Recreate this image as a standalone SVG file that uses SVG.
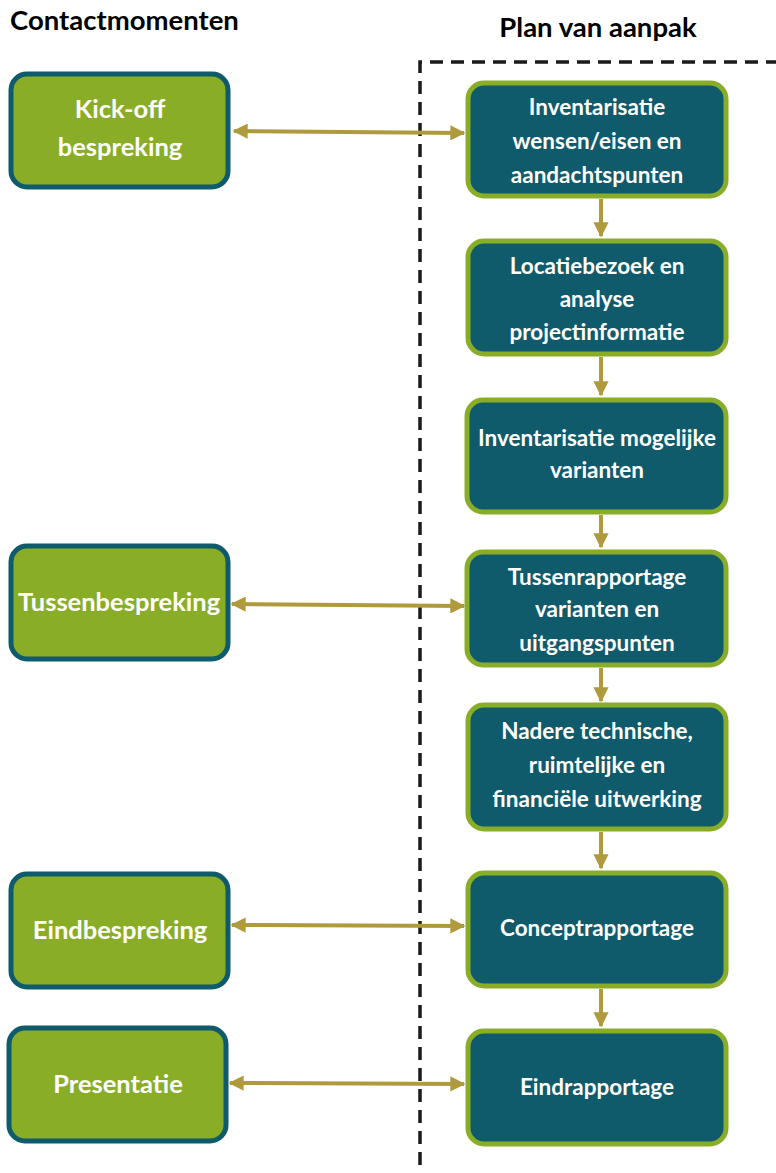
<svg xmlns="http://www.w3.org/2000/svg" width="776" height="1173" viewBox="0 0 776 1173">
<defs>
<style>
.l{fill:#8aad27;stroke:#0f5a6b;stroke-width:5}
.r{fill:#0f5a6b;stroke:#8aad27;stroke-width:5}
.t{font-family:Lato,"Open Sans",sans-serif;font-weight:bold;font-size:22.5px;fill:#ffffff;text-anchor:middle}
.tl{font-size:25.5px}
.h{font-family:Lato,"Open Sans",sans-serif;font-weight:bold;font-size:27.5px;fill:#000000}
.c{stroke:#b09a3e;stroke-width:4;fill:none}
</style>
<marker id="ah" viewBox="0 0 10 10" refX="9" refY="5" markerWidth="3.8" markerHeight="3.8" orient="auto-start-reverse" markerUnits="strokeWidth">
<path d="M0,0 L10,5 L0,10 Z" fill="#b09a3e"/>
</marker>
</defs>
<rect width="776" height="1173" fill="#ffffff"/>
<text class="h" x="10" y="30">Contactmomenten</text>
<text class="h" x="598" y="37" text-anchor="middle">Plan van aanpak</text>
<path d="M420,1165 L420,62 L776,62" fill="none" stroke="#1a1a1a" stroke-width="3.5" stroke-dasharray="13,8"/>
<g id="connectors">
<line class="c" x1="234" y1="131" x2="464" y2="133" marker-start="url(#ah)" marker-end="url(#ah)"/>
<line class="c" x1="232" y1="604" x2="464" y2="606" marker-start="url(#ah)" marker-end="url(#ah)"/>
<line class="c" x1="232" y1="925" x2="464" y2="926" marker-start="url(#ah)" marker-end="url(#ah)"/>
<line class="c" x1="230" y1="1083" x2="464" y2="1084" marker-start="url(#ah)" marker-end="url(#ah)"/>
<line class="c" x1="601" y1="199" x2="601" y2="236" marker-end="url(#ah)"/>
<line class="c" x1="601" y1="357" x2="601" y2="395" marker-end="url(#ah)"/>
<line class="c" x1="601" y1="515" x2="601" y2="547" marker-end="url(#ah)"/>
<line class="c" x1="601" y1="668" x2="601" y2="701" marker-end="url(#ah)"/>
<line class="c" x1="601" y1="832" x2="601" y2="868" marker-end="url(#ah)"/>
<line class="c" x1="601" y1="989" x2="601" y2="1026" marker-end="url(#ah)"/>
</g>
<g id="kickoff"><rect class="l" x="11" y="74" width="217" height="113" rx="16"/><text class="t tl" x="120" y="118">Kick-off</text><text class="t tl" x="120" y="156">bespreking</text></g>
<g id="tussenbespreking"><rect class="l" x="11" y="546" width="217" height="113" rx="16"/><text class="t tl" x="119" y="611">Tussenbespreking</text></g>
<g id="eindbespreking"><rect class="l" x="11" y="874" width="217" height="113" rx="16"/><text class="t tl" x="120" y="939">Eindbespreking</text></g>
<g id="presentatie"><rect class="l" x="9" y="1028" width="217" height="113" rx="16"/><text class="t tl" x="118" y="1093">Presentatie</text></g>
<g id="inventarisatie"><rect class="r" x="468" y="83" width="258" height="113" rx="16"/><text class="t" x="597" y="115">Inventarisatie</text><text class="t" x="597" y="149">wensen/eisen en</text><text class="t" x="597" y="183">aandachtspunten</text></g>
<g id="locatiebezoek"><rect class="r" x="468" y="241" width="258" height="113" rx="16"/><text class="t" x="597" y="274">Locatiebezoek en</text><text class="t" x="597" y="307">analyse</text><text class="t" x="597" y="340">projectinformatie</text></g>
<g id="varianten"><rect class="r" x="467" y="400" width="259" height="112" rx="16"/><text class="t" x="597" y="446">Inventarisatie mogelijke</text><text class="t" x="597" y="478">varianten</text></g>
<g id="tussenrapportage"><rect class="r" x="467" y="552" width="259" height="113" rx="16"/><text class="t" x="597" y="585">Tussenrapportage</text><text class="t" x="597" y="617">varianten en</text><text class="t" x="597" y="651">uitgangspunten</text></g>
<g id="uitwerking"><rect class="r" x="468" y="705" width="258" height="124" rx="16"/><text class="t" x="597" y="739">Nadere technische,</text><text class="t" x="597" y="773">ruimtelijke en</text><text class="t" x="597" y="807">financiële uitwerking</text></g>
<g id="conceptrapportage"><rect class="r" x="468" y="873" width="258" height="113" rx="16"/><text class="t" x="597" y="936">Conceptrapportage</text></g>
<g id="eindrapportage"><rect class="r" x="468" y="1031" width="258" height="113" rx="16"/><text class="t" x="597" y="1095">Eindrapportage</text></g>
</svg>
